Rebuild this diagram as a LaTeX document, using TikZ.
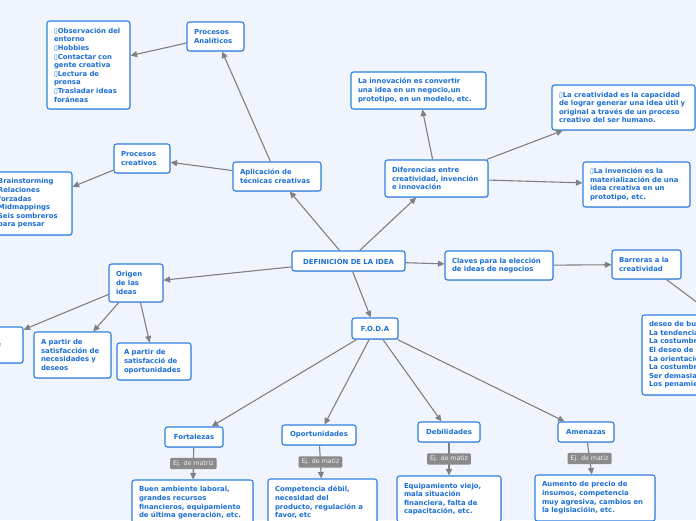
\documentclass[tikz,border=0pt]{standalone}
\usepackage{fontspec}
\newfontfamily\mapfont{DejaVu Sans}
\usetikzlibrary{arrows.meta,shadows}
\definecolor{bgblue}{RGB}{240,244,253}
\definecolor{boxblue}{RGB}{47,128,226}
\definecolor{txtblue}{RGB}{27,110,214}
\definecolor{linegray}{RGB}{128,128,128}
\definecolor{labgray}{RGB}{138,138,138}
\tikzset{
  idea/.style={draw=boxblue,fill=white,line width=1.1pt,rounded corners=2.5pt,
    text=txtblue,font=\mapfont\bfseries\fontsize{6.9}{8.6}\selectfont,align=left,
    inner xsep=7pt,inner ysep=0pt,
    drop shadow={shadow xshift=0.6pt,shadow yshift=-0.8pt,opacity=0.15,fill=black}},
  link/.style={draw=linegray,line width=1.1pt,-{Triangle[length=6.5pt,width=6pt]}},
  matlab/.style={fill=labgray,text=white!90!labgray,
    font=\mapfont\fontsize{6.3}{7.5}\selectfont,inner xsep=3pt,inner ysep=2.5pt,
    rounded corners=1pt}
}
\begin{document}
\begin{tikzpicture}[x=1pt,y=-1pt]
  \path[use as bounding box,fill=bgblue] (0,0) rectangle (696,520);
  \clip (0,0) rectangle (696,520);
  % centre
  \node[idea,text width=99pt,minimum height=20pt,align=center] (D0) at (348.5,261) {DEFINICIÓN DE LA IDEA};
  % tecnicas
  \node[idea,text width=74pt,minimum height=29pt] (T0) at (277,176.5) {Aplicación de\\técnicas creativas};
  \node[idea,text width=43pt,minimum height=29pt] (T1) at (215.5,36.5) {Procesos\\Analíticos};
  \node[idea,text width=69pt,minimum height=88pt] (T2) at (88.5,65) {▯Observación del\\entorno\\▯Hobbies\\▯Contactar con\\gente creativa\\▯Lectura de\\prensa\\▯Trasladar ideas\\foráneas};
  \node[idea,text width=42pt,minimum height=29pt] (T3) at (142,158.5) {Procesos\\creativos};
  \node[idea,text width=67pt,minimum height=63pt] (T4) at (31.5,203.5) {Brainstorming\\Relaciones\\forzadas\\Midmappings\\Seis sombreros\\para pensar};
  % diferencias
  \node[idea,text width=89pt,minimum height=37pt] (V0) at (436.5,178.5) {Diferencias entre\\creatividad, invención\\e innovación};
  \node[idea,text width=121pt,minimum height=37pt] (V1) at (418.5,90.5) {La innovación es convertir\\una idea en un negocio,un\\prototipo, en un modelo, etc.};
  \node[idea,text width=129pt,minimum height=45pt] (V2) at (623.5,107.5) {▯La creatividad es la capacidad\\de lograr generar una idea útil y\\original a través de un proceso\\creativo del ser humano.};
  \node[idea,text width=93pt,minimum height=45pt] (V3) at (636.5,184.5) {▯La invención es la\\materialización de una\\idea creativa en un\\prototipo, etc.};
  % claves
  \node[idea,text width=94pt,minimum height=29pt] (K0) at (499,265.5) {Claves para la elección\\de ideas de negocios};
  \node[idea,text width=55pt,minimum height=29pt] (K1) at (646.5,264.5) {Barreras a la\\creatividad};
  \node[idea,text width=236pt,minimum height=80pt] (K2) at (767,355) {deseo de buscar la respuesta correcta\\La tendencia a ser lógico\\La costumbre de seguir las reglas\\El deseo de ser práctico\\La orientación a evitar la ambigüedad\\La costumbre de evitar errores\\Ser demasiado serio\\Los penamientos negativos};
  % origen
  \node[idea,text width=59pt,minimum height=36pt] (O1) at (-13.5,345) {A partir de\\solución de\\problemas};
  \node[idea,text width=40pt,minimum height=38pt] (O0) at (136,283) {Origen\\de las\\ideas};
  \node[idea,text width=63pt,minimum height=46pt] (O2) at (72.5,355) {A partir de\\satisfacción de\\necesidades y\\deseos};
  \node[idea,text width=60pt,minimum height=37pt] (O3) at (154,361.5) {A partir de\\satisfacció de\\oportunidades};
  % foda
  \node[idea,text width=32pt,minimum height=21pt,align=center] (F0) at (375,328.5) {F.O.D.A};
  \node[idea,text width=44pt,minimum height=20pt,align=center] (F1) at (194,437) {Fortalezas};
  \node[idea,text width=60pt,minimum height=20pt,align=center] (F2) at (319,435) {Oportunidades};
  \node[idea,text width=48pt,minimum height=20pt,align=center] (F3) at (449,432) {Debilidades};
  \node[idea,text width=42pt,minimum height=20pt,align=center] (F4) at (586,432) {Amenazas};
  \node[idea,text width=107pt,minimum height=46pt] (E1) at (192.5,503) {Buen ambiente laboral,\\grandes recursos\\financieros, equipamiento\\de última generación, etc.};
  \node[idea,text width=95pt,minimum height=47pt] (E2) at (322.5,502.5) {Competencia débil,\\necesidad del\\producto, regulación a\\favor, etc};
  \node[idea,text width=90pt,minimum height=46pt] (E3) at (449,499) {Equipamiento viejo,\\mala situación\\financiera, falta de\\capacitación, etc.};
  \node[idea,text width=106pt,minimum height=46pt] (E4) at (595,498) {Aumento de precio de\\insumos, competencia\\muy agresiva, cambios en\\la legislacióin, etc.};
  % connectors
  \foreach \x/\y in {D0/T0,D0/V0,D0/O0,D0/K0,D0/F0,T0/T1,T0/T3,T1/T2,T3/T4,
                     V0/V1,V0/V2,V0/V3,K0/K1,K1/K2,O0/O1,O0/O2,O0/O3,
                     F0/F1,F0/F2,F0/F3,F0/F4}{
    \draw[link] (\x)--(\y);
  }
  \foreach \x/\y/\t in {F1/E1/Ej. de matriz,F2/E2/Ej. de matiz,F3/E3/Ej. de matiz,F4/E4/Ej. de matiz}{
    \draw[link] (\x)--node[matlab]{\t}(\y);
  }
\end{tikzpicture}
\end{document}
